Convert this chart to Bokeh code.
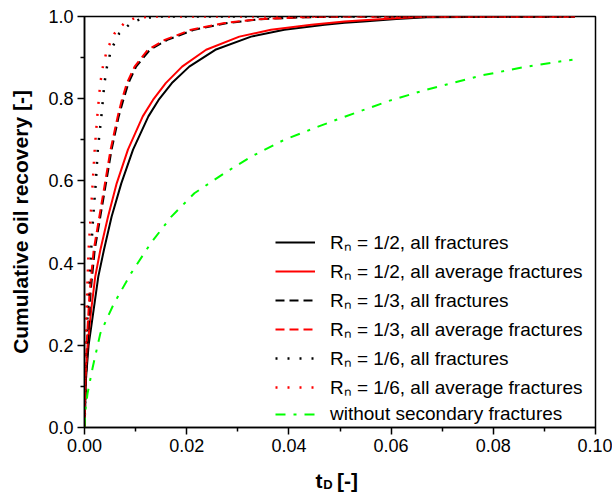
from bokeh.plotting import figure
from bokeh.layouts import column
from bokeh.models import Range1d, Legend, LegendItem, PrintfTickFormatter, FixedTicker
from bokeh.core.properties import value
from bokeh.embed import file_html
from bokeh.resources import INLINE

# ---- data ----
t_r2_all = [0, 0.0003, 0.0008, 0.0016, 0.0027, 0.0038, 0.0053, 0.0072, 0.0095, 0.0125, 0.0145, 0.0171, 0.0205, 0.0256, 0.0326, 0.0391, 0.047, 0.0509, 0.0546, 0.061, 0.067, 0.096]
y_r2_all = [0, 0.12, 0.2, 0.27, 0.367, 0.432, 0.513, 0.594, 0.676, 0.757, 0.797, 0.838, 0.878, 0.919, 0.951, 0.968, 0.980, 0.985, 0.988, 0.994, 0.998, 1.0]

t_r2_avg = [0, 0.0002, 0.0006, 0.0013, 0.0021, 0.0031, 0.0046, 0.0063, 0.0085, 0.0114, 0.0134, 0.0159, 0.0191, 0.0238, 0.0303, 0.0365, 0.0444, 0.0509, 0.0546, 0.061, 0.067, 0.096]
y_r2_avg = [0, 0.12, 0.2, 0.285, 0.367, 0.432, 0.513, 0.594, 0.676, 0.757, 0.797, 0.838, 0.878, 0.919, 0.951, 0.968, 0.980, 0.988, 0.991, 0.996, 1.0, 1.0]

t_r3_all = [0, 0.0003, 0.0007, 0.0012, 0.002, 0.0031, 0.0042, 0.0053, 0.0067, 0.0076, 0.0086, 0.0101, 0.0128, 0.0162, 0.0215, 0.028, 0.0345, 0.043, 0.052, 0.096]
y_r3_all = [0, 0.12, 0.22, 0.33, 0.432, 0.513, 0.594, 0.676, 0.757, 0.797, 0.838, 0.878, 0.919, 0.943, 0.968, 0.984, 0.9935, 0.998, 1.0, 1.0]

t_r3_avg = [0, 0.0002, 0.0005, 0.001, 0.0018, 0.0029, 0.004, 0.0051, 0.0065, 0.0073, 0.0083, 0.0098, 0.0124, 0.0157, 0.0209, 0.0274, 0.0339, 0.0424, 0.05, 0.096]
y_r3_avg = [0, 0.12, 0.22, 0.33, 0.432, 0.513, 0.594, 0.676, 0.757, 0.797, 0.838, 0.878, 0.919, 0.943, 0.968, 0.984, 0.9935, 0.998, 1.0, 1.0]

t_r6_all = [0, 0.0002, 0.0005, 0.0013, 0.0017, 0.0022, 0.0026, 0.0033, 0.0039, 0.0044, 0.0052, 0.0068, 0.0091, 0.0114, 0.015, 0.096]
y_r6_all = [0, 0.1, 0.25, 0.432, 0.513, 0.594, 0.676, 0.757, 0.838, 0.878, 0.919, 0.959, 0.984, 0.996, 1.0, 1.0]

t_r6_avg = [0, 0.0001, 0.0003, 0.0008, 0.0012, 0.0016, 0.002, 0.0025, 0.0031, 0.0036, 0.0044, 0.0059, 0.0078, 0.0098, 0.013, 0.096]
y_r6_avg = [0, 0.1, 0.25, 0.432, 0.513, 0.594, 0.676, 0.757, 0.838, 0.878, 0.919, 0.959, 0.984, 0.996, 1.0, 1.0]

t_none = [0, 0.0002, 0.0006, 0.0016, 0.0031, 0.0045, 0.0057, 0.0091, 0.013, 0.017, 0.0215, 0.0274, 0.0326, 0.0391, 0.0457, 0.0502, 0.0599, 0.0664, 0.0775, 0.0865, 0.0955]
y_none = [0, 0.045, 0.083, 0.146, 0.229, 0.268, 0.30, 0.375, 0.449, 0.513, 0.57, 0.619, 0.659, 0.70, 0.732, 0.753, 0.796, 0.82, 0.856, 0.878, 0.895]

labels = [
    "R\u2099 = 1/2, all fractures",
    "R\u2099 = 1/2, all average fractures",
    "R\u2099 = 1/3, all fractures",
    "R\u2099 = 1/3, all average fractures",
    "R\u2099 = 1/6, all fractures",
    "R\u2099 = 1/6, all average fractures",
    "without secondary fractures",
]

x_ticks = [0.0, 0.02, 0.04, 0.06, 0.08, 0.10]
x_minor = [0.01, 0.03, 0.05, 0.07, 0.09]
y_ticks = [0.0, 0.2, 0.4, 0.6, 0.8, 1.0]
y_minor = [0.1, 0.3, 0.5, 0.7, 0.9]

# x-axis title pieces: main letter, subscript, unit
xtitle_parts = ["t", "D", "[-]"]

FONT = "Liberation Sans"

p = figure(width=612, height=465, output_backend="svg", toolbar_location=None,
           x_range=Range1d(0, 0.1), y_range=Range1d(0, 1),
           min_border_left=84, min_border_right=17, min_border_top=16, min_border_bottom=38)
p.xgrid.visible = False
p.ygrid.visible = False
p.outline_line_color = "black"
p.outline_line_width = 1.5
p.outline_line_alpha = 1
p.background_fill_color = "white"
p.border_fill_color = "white"

for ax, tk, mn, fmt in [(p.xaxis[0], x_ticks, x_minor, "%.2f"), (p.yaxis[0], y_ticks, y_minor, "%.1f")]:
    ax.ticker = FixedTicker(ticks=tk, minor_ticks=mn)
    ax.formatter = PrintfTickFormatter(format=fmt)
    ax.major_tick_out = 7
    ax.major_tick_in = 0
    ax.minor_tick_out = 4
    ax.minor_tick_in = 0
    ax.axis_line_width = 1.5
    ax.major_tick_line_width = 1.5
    ax.minor_tick_line_width = 1.5
    ax.major_label_text_font = FONT
    ax.major_label_text_font_size = "18px"
    ax.major_label_text_color = "black"
    ax.major_label_standoff = 4

p.yaxis.axis_label = "Cumulative oil recovery [-]"
p.yaxis.axis_label_text_font = FONT
p.yaxis.axis_label_text_font_style = "bold"
p.yaxis.axis_label_text_font_size = "21px"
p.yaxis.axis_label_text_color = "black"
p.yaxis.axis_label_standoff = 13

W = 2
r1 = p.line(t_r2_all, y_r2_all, line_color="black", line_width=W)
r2 = p.line(t_r2_avg, y_r2_avg, line_color="red", line_width=W)
r3 = p.line(t_r3_all, y_r3_all, line_color="black", line_width=W, line_dash="9 5")
r4 = p.line(t_r3_avg, y_r3_avg, line_color="red", line_width=W, line_dash="9 5")
r5 = p.line(t_r6_all, y_r6_all, line_color="black", line_width=2.5, line_dash="2 10")
r6 = p.line(t_r6_avg, y_r6_avg, line_color="red", line_width=2.5, line_dash="2 10")
r7 = p.line(t_none, y_none, line_color="#00ff00", line_width=W, line_dash="10 8 3 8")

legend = Legend(items=[LegendItem(label=l, renderers=[r]) for l, r in zip(labels, [r1, r2, r3, r4, r5, r6, r7])],
                location=(191, 2), border_line_color=None, background_fill_alpha=0,
                padding=0, margin=0, spacing=3, glyph_width=40, glyph_height=20,
                label_height=20, label_standoff=15, label_text_font=FONT,
                label_text_font_size="19px", label_text_color="black")
p.add_layout(legend)

# strip below the plot carrying the x-axis title "t_D [-]"; shares the x scale of the plot
p2 = figure(width=612, height=30, output_backend="svg", toolbar_location=None,
            x_range=p.x_range, y_range=Range1d(30, 0),
            x_axis_type=None, y_axis_type=None,
            min_border_left=84, min_border_right=17, min_border_top=0, min_border_bottom=0)
p2.xgrid.visible = False
p2.ygrid.visible = False
p2.outline_line_color = None
p2.background_fill_color = "white"
p2.border_fill_color = "white"
p2.text(x=[0.0452], y=[15], text=[xtitle_parts[0]], text_font=value(FONT), text_font_style="bold",
        text_font_size="21px", text_baseline="alphabetic", text_color="black")
p2.text(x=[0.0467], y=[19], text=[xtitle_parts[1]], text_font=value(FONT), text_font_style="bold",
        text_font_size="13px", text_baseline="alphabetic", text_color="black")
p2.text(x=[0.0494], y=[15], text=[xtitle_parts[2]], text_font=value(FONT), text_font_style="bold",
        text_font_size="21px", text_baseline="alphabetic", text_color="black")

layout = column(p, p2, spacing=0)
open("out.html", "w").write(file_html(layout, INLINE))
